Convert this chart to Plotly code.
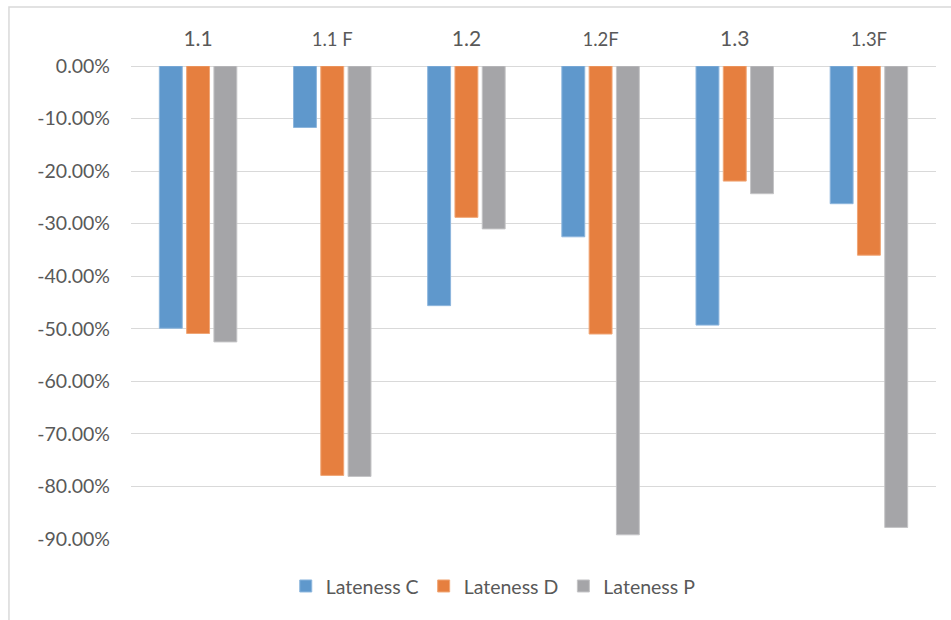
import plotly.graph_objects as go

# Lateness reduction per scenario (fractions, negative = reduction)
categories = ["1.1", "1.1 F", "1.2", "1.2F", "1.3", "1.3F"]
lateness_c = [-0.499, -0.117, -0.456, -0.325, -0.493, -0.262]
lateness_d = [-0.509, -0.779, -0.288, -0.510, -0.219, -0.360]
lateness_p = [-0.525, -0.781, -0.310, -0.892, -0.243, -0.878]

series_names = ["Lateness C", "Lateness D", "Lateness P"]
series_colors = ["#5f98cc", "#e67f3f", "#a5a5a8"]
series_edges = ["#8db6dd", "#f0a676", "#c4c4c6"]

y_ticks = [0, -0.1, -0.2, -0.3, -0.4, -0.5, -0.6, -0.7, -0.8, -0.9]
y_tick_text = [f"{v * 100:.2f}%" for v in y_ticks]  # plain hyphen minus
y_tick_text[0] = "0.00%"

FONT = "Lato, 'Open Sans', sans-serif"
TEXT = "#595959"

# labels ending in F are set slightly smaller
tick_text = [
    f"<span style='font-size:18.5px'>{c}</span>" if c.endswith("F") else c
    for c in categories
]

fig = go.Figure()
for name, vals, col, edge in zip(series_names,
                                 [lateness_c, lateness_d, lateness_p],
                                 series_colors, series_edges):
    fig.add_trace(go.Bar(
        name=name, x=categories, y=vals,
        marker=dict(color=col, line=dict(color=edge, width=1)),
    ))

fig.update_layout(
    width=951, height=620,
    margin=dict(l=131, r=15, t=66, b=81),
    paper_bgcolor="white", plot_bgcolor="white",
    barmode="group", bargap=0.39, bargroupgap=0.16,
    font=dict(family=FONT, color=TEXT, size=19),
    showlegend=True,
    legend=dict(
        orientation="h", x=0.45, xanchor="center", y=-0.10, yanchor="middle",
        font=dict(size=19.5, color=TEXT, family=FONT),
        itemwidth=30, traceorder="normal",
    ),
    xaxis=dict(
        side="top", type="category",
        tickmode="array", tickvals=categories, ticktext=tick_text,
        tickfont=dict(size=21, color=TEXT),
        showgrid=False, showline=False, ticks="",
        ticklabelstandoff=15,
    ),
    yaxis=dict(
        range=[-0.9, 0], tickmode="array", tickvals=y_ticks,
        ticktext=y_tick_text,
        tickfont=dict(size=19.5, color=TEXT),
        showgrid=True, gridcolor="#d9d9d9", gridwidth=1,
        zeroline=True, zerolinecolor="#d9d9d9", zerolinewidth=1,
        showline=False, ticks="", ticklabelstandoff=20,
    ),
    shapes=[dict(
        type="rect", xref="paper", yref="paper",
        x0=-0.1516, x1=1.2, y0=-0.3, y1=1.1247,
        line=dict(color="#d9d9d9", width=1.5), fillcolor="rgba(0,0,0,0)",
        layer="below",
    )],
)

fig.write_html("out.html")
